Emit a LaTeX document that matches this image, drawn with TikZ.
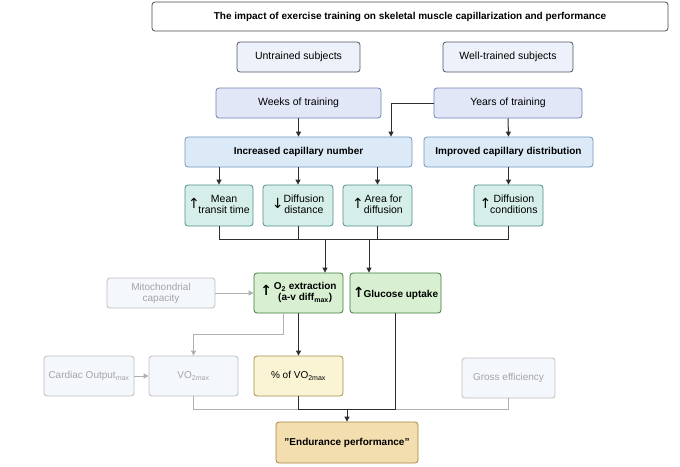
\documentclass[tikz,border=0pt]{standalone}
\usepackage{fontspec}
\setmainfont{Liberation Sans}
\newfontfamily\symf{DejaVu Sans}
\usetikzlibrary{arrows.meta}
\definecolor{ttlb}{HTML}{4A4A4A}
\definecolor{subf}{HTML}{EDF1FA}\definecolor{subb}{HTML}{4F5566}
\definecolor{wkf}{HTML}{E2E7F8}\definecolor{wkb}{HTML}{7480B5}
\definecolor{incf}{HTML}{DCEAF7}\definecolor{incb}{HTML}{6F94BE}
\definecolor{tlf}{HTML}{D5EEEA}\definecolor{tlb}{HTML}{4E8F87}
\definecolor{grf}{HTML}{D8F0D1}\definecolor{grb}{HTML}{3F7B39}
\definecolor{gyf}{HTML}{F4F7FB}\definecolor{gyb}{HTML}{BEBEBE}\definecolor{gyt}{HTML}{A4A4A4}
\definecolor{pcf}{HTML}{FAF4D5}\definecolor{pcb}{HTML}{A48E3F}
\definecolor{enf}{HTML}{F2DEAF}\definecolor{enb}{HTML}{A6843C}
\definecolor{lnk}{HTML}{2E2E2E}
\definecolor{glnk}{HTML}{B0B0B0}
\newcommand{\upar}{{\symf\fontsize{14}{14}\selectfont ↑}}
\newcommand{\dnar}{{\symf\fontsize{14}{14}\selectfont ↓}}
\begin{document}
\begin{tikzpicture}[x=1pt,y=-1pt,
  bx/.style={draw, rounded corners=3pt, line width=0.8pt, inner sep=0pt, align=center,
    font=\fontsize{10.5}{12}\selectfont},
  bbx/.style={bx, font=\fontsize{10}{12}\selectfont\bfseries},
  ttl/.style={bbx, fill=white, draw=ttlb},
  sub/.style={bx, fill=subf, draw=subb},
  wk/.style={bx, fill=wkf, draw=wkb},
  inc/.style={bbx, fill=incf, draw=incb},
  tl/.style={bx, fill=tlf, draw=tlb},
  gr/.style={bbx, fill=grf, draw=grb},
  gy/.style={bx, fill=gyf, draw=gyb, text=gyt, font=\fontsize{10}{12}\selectfont},
  pc/.style={bx, fill=pcf, draw=pcb, font=\fontsize{10}{12}\selectfont},
  en/.style={bbx, fill=enf, draw=enb},
  conn/.style={draw=lnk, line width=1pt},
  arr/.style={conn, -{Triangle[length=5pt,width=5pt]}},
  gconn/.style={draw=glnk, line width=1pt},
  garr/.style={gconn, -{Triangle[length=5pt,width=5pt]}}]
\useasboundingbox (0,0) rectangle (680,466);

\node[ttl, minimum width=516pt, minimum height=29pt] (title) at (410,16.5)
  {The impact of exercise training on skeletal muscle capillarization and performance};
\node[sub, minimum width=123pt, minimum height=30pt] (untr) at (298.5,57) {Untrained subjects};
\node[sub, minimum width=130pt, minimum height=30pt] (well) at (508,57) {Well-trained subjects};
\node[wk, minimum width=165pt, minimum height=30pt] (weeks) at (298.5,103) {Weeks of training};
\node[wk, minimum width=148pt, minimum height=30pt] (years) at (508,103) {Years of training};
\node[inc, minimum width=227pt, minimum height=30pt] (incr) at (298.5,152) {Increased capillary number};
\node[inc, minimum width=169pt, minimum height=30pt] (impr) at (508.5,152) {Improved capillary distribution};

\node[tl, minimum width=68pt, minimum height=41pt] (mean) at (219,205.5)
  {\upar\hspace{-1.5pt}\begin{tabular}{@{}c@{}}Mean\\[-1pt]transit time\end{tabular}};
\node[tl, minimum width=70pt, minimum height=41pt] (dist) at (298,205.5)
  {\dnar\begin{tabular}{@{}c@{}}Diffusion\\[-1pt]distance\end{tabular}};
\node[tl, minimum width=69pt, minimum height=41pt] (area) at (377.5,205.5)
  {\upar\begin{tabular}{@{}c@{}}Area for\\[-1pt]diffusion\end{tabular}};
\node[tl, minimum width=69pt, minimum height=41pt] (cond) at (508.5,205.5)
  {\upar\hspace{-1pt}\begin{tabular}{@{}c@{}}Diffusion\\[-1pt]conditions\end{tabular}};

\node[gy, minimum width=108pt, minimum height=30pt] (mito) at (161,293)
  {Mitochondrial\\[-1pt]capacity};
\node[gr, minimum width=89pt, minimum height=40pt] (o2) at (298.5,293)
  {\upar\,\begin{tabular}{@{}c@{}}O\textsubscript{2} extraction\\[-1pt](a-v diff\textsubscript{max})\end{tabular}};
\node[gr, minimum width=91pt, minimum height=40pt] (gluc) at (395.5,293)
  {\upar\hspace{-1pt}Glucose uptake};

\node[gy, minimum width=90pt, minimum height=40pt] (card) at (89,376) {Cardiac Output\textsubscript{max}};
\node[gy, minimum width=89pt, minimum height=40pt] (vo2) at (193.5,376) {VO\textsubscript{2max}};
\node[pc, minimum width=89pt, minimum height=40pt] (pct) at (298.5,376) {\% of VO\textsubscript{2max}};
\node[gy, minimum width=93pt, minimum height=40pt] (gross) at (508.5,378) {Gross efficiency};
\node[en, minimum width=142pt, minimum height=41pt] (endur) at (347,442.5) {"Endurance performance"};

\coordinate (jy) at (0,239);
\coordinate (a1) at (325,239);
\coordinate (a2) at (369,239);
\coordinate (g1) at (283,334);
\coordinate (jb) at (0,409);

% upper connectors
\draw[arr] (weeks.south) -- (incr.north);
\draw[arr] (years.west) -| ([xshift=92.5pt]incr.north);
\draw[arr] (years.south) -- (impr.north);
\draw[arr] (incr.south -| mean.north) -- (mean.north);
\draw[arr] (incr.south -| dist.north) -- (dist.north);
\draw[arr] (incr.south -| area.north) -- (area.north);
\draw[arr] (impr.south) -- (cond.north);
\draw[conn] (mean.south) -- (mean.south |- jy) -- (cond.south |- jy) -- (cond.south);
\draw[conn] (dist.south) -- (dist.south |- jy);
\draw[conn] (area.south) -- (area.south |- jy);
\draw[arr] (a1) -- (a1 |- o2.north);
\draw[arr] (a2) -- (a2 |- gluc.north);

% gray connectors
\draw[garr] (mito.east) -- (o2.west);
\draw[garr] (o2.south -| g1) -- (g1) -| (vo2.north);
\draw[garr] (card.east) -- (vo2.west);
\draw[gconn] (vo2.south) |- (pct.south |- jb);
\draw[gconn] (gross.south) |- (gluc.south |- jb);

% black lower connectors
\draw[arr] (o2.south) -- (pct.north);
\draw[conn] (pct.south) -- (pct.south |- jb) -- (gluc.south |- jb) -- (gluc.south);
\draw[arr] (endur.north |- jb) -- (endur.north);
\end{tikzpicture}
\end{document}
